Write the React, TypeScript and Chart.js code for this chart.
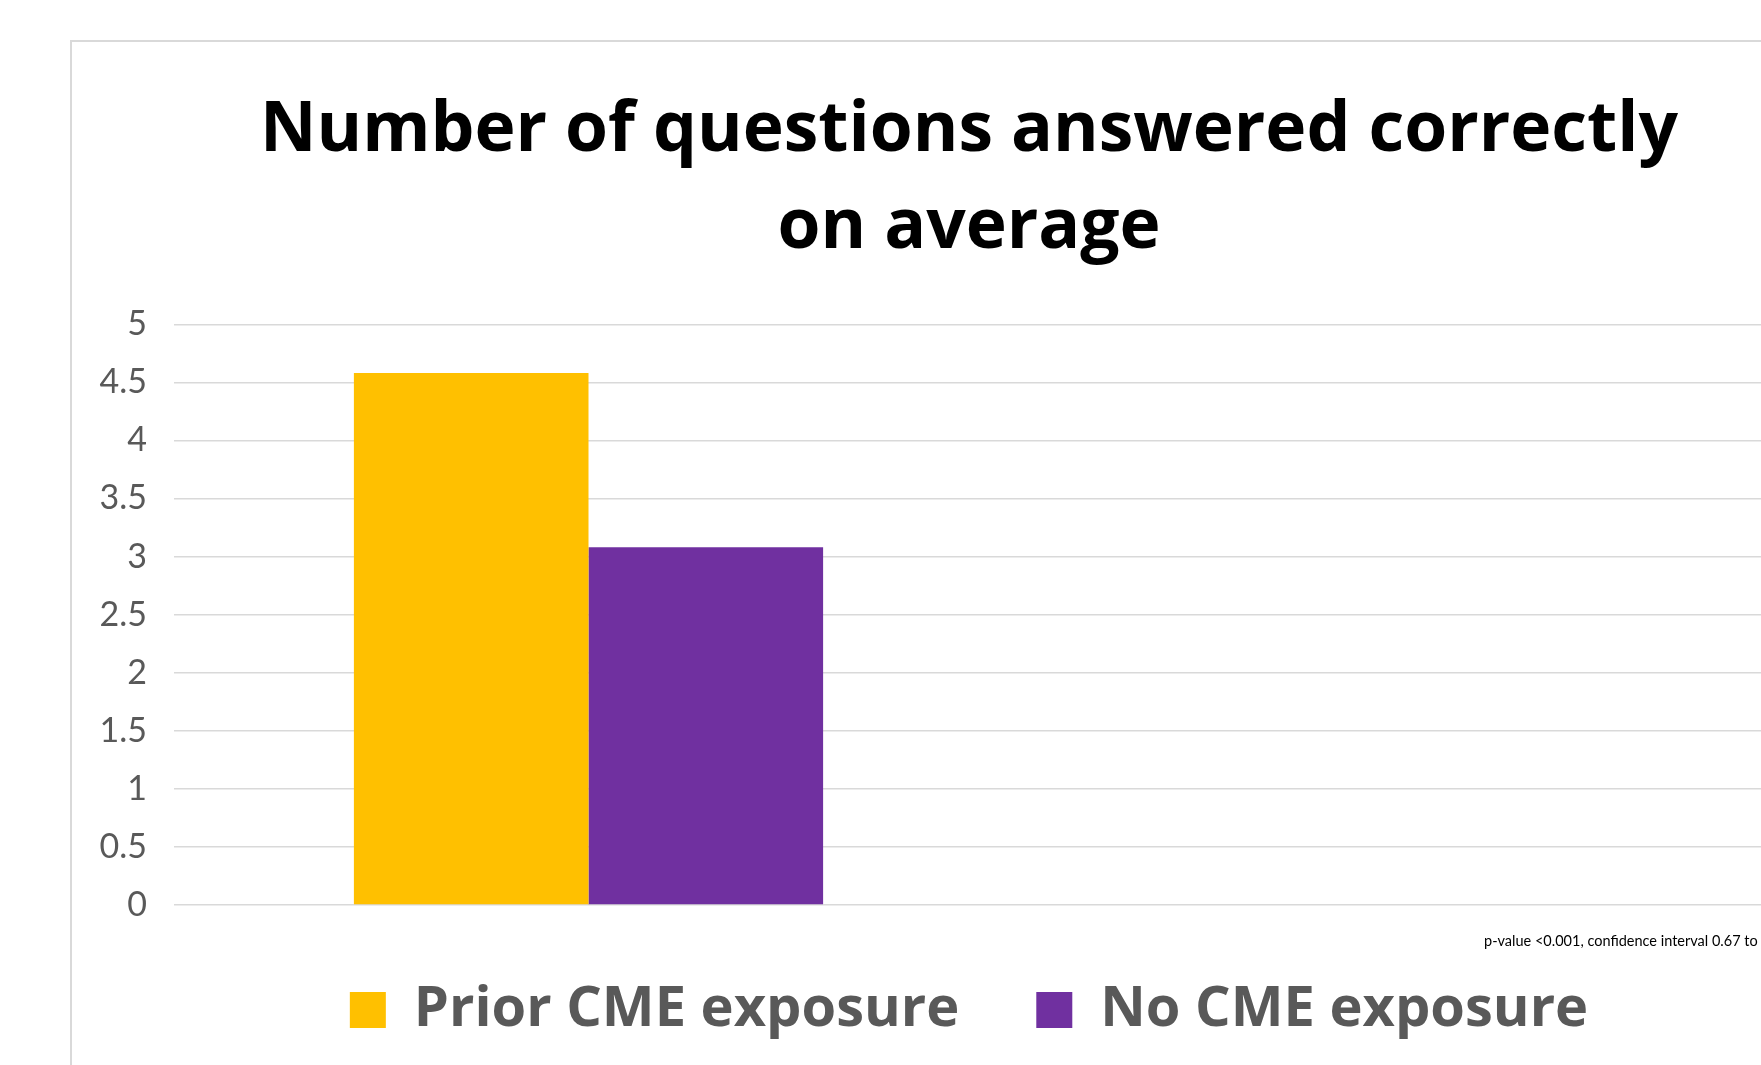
import React, { useEffect, useRef } from "react";
import { Chart, registerables } from "chart.js";

Chart.register(...registerables);

// ---- data ----
const TITLE_LINES = ["Number of questions answered correctly", "on average"];
const CATEGORIES = ["Average", ""];
const SERIES_NAMES = ["Prior CME exposure", "No CME exposure"];
const PRIOR_CME = [4.58, null];
const NO_CME = [3.08, null];
const Y_MIN = 0;
const Y_MAX = 5;
const Y_STEP = 0.5;
const NOTE = "p-value <0.001, confidence interval 0.67 to";

const COLORS = ["#FFC000", "#7030A0"];

const labelRoom = {
  id: "labelRoom",
  afterLayout(chart: any) {
    const y = chart.scales && chart.scales.y;
    if (y) y.left = 0;
  },
};

export default function App() {
  const canvasRef = useRef<HTMLCanvasElement | null>(null);

  useEffect(() => {
    const canvas = canvasRef.current;
    if (!canvas) return;
    const chart = new Chart(canvas, {
      type: "bar",
      data: {
        labels: CATEGORIES,
        datasets: [
          {
            label: SERIES_NAMES[0],
            data: PRIOR_CME,
            backgroundColor: COLORS[0],
            borderWidth: 0,
            barPercentage: 1,
            categoryPercentage: 0.566,
          },
          {
            label: SERIES_NAMES[1],
            data: NO_CME,
            backgroundColor: COLORS[1],
            borderWidth: 0,
            barPercentage: 1,
            categoryPercentage: 0.566,
          },
        ],
      },
      plugins: [labelRoom],
      options: {
        responsive: false,
        maintainAspectRatio: false,
        animation: false,
        devicePixelRatio: 1,
        layout: { padding: { left: 35, right: 44, top: 0, bottom: 0 } },
        plugins: {
          tooltip: { enabled: false },
          title: {
            display: true,
            text: TITLE_LINES,
            color: "#000000",
            font: { family: "Open Sans", size: 69.5, weight: "bold", lineHeight: 1.405 },
            padding: { top: 41, bottom: 47 },
          },
          legend: {
            display: true,
            position: "bottom",
            labels: {
              boxWidth: 36,
              boxHeight: 36,
              padding: 77,
              color: "#595959",
              font: { family: "Open Sans", size: 56, weight: "bold" },
            },
          },
        },
        scales: {
          x: {
            display: false,
          },
          y: {
            min: Y_MIN,
            max: Y_MAX,
            afterFit: (scale: any) => {
              scale.width = 68;
            },
            ticks: {
              stepSize: Y_STEP,
              color: "#595959",
              padding: 27,
              font: { family: "Lato", size: 34 },
              callback: (value: any) => String(Number(value)),
            },
            grid: {
              color: "#d9d9d9",
              lineWidth: 1.5,
              drawTicks: false,
            },
            border: { display: false },
          },
        },
      },
    });
    return () => chart.destroy();
  }, []);

  return (
    <div
      style={{
        position: "fixed",
        left: 0,
        top: 0,
        width: 1761,
        height: 1065,
        overflow: "hidden",
        background: "#ffffff",
      }}
    >
      <div
        style={{
          position: "absolute",
          left: 70,
          top: 40,
          width: 2000,
          height: 2000,
          border: "2px solid #d9d9d9",
          boxSizing: "border-box",
        }}
      />
      <canvas
        ref={canvasRef}
        width={1805}
        height={1007}
        style={{ position: "absolute", left: 71, top: 41, width: 1805, height: 1007 }}
      />
      <div
        style={{
          position: "absolute",
          left: 1484,
          top: 932,
          fontFamily: "Lato",
          fontSize: 14.5,
          color: "#000000",
          whiteSpace: "nowrap",
        }}
      >
        {NOTE}
      </div>
    </div>
  );
}
